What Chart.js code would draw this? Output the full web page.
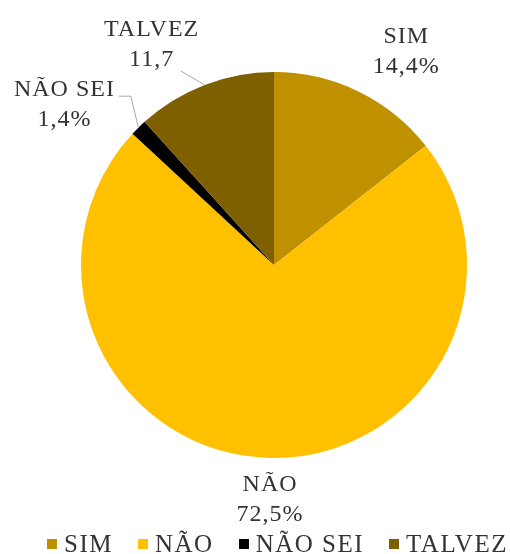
<!DOCTYPE html>
<html>
<head>
<meta charset="utf-8">
<script src="https://cdn.jsdelivr.net/npm/chart.js@4"></script>
<style>
    html, body { margin: 0; padding: 0; background: #fff; }
    #wrap { position: relative; width: 510px; height: 554px; overflow: hidden; }
    #grafico { position: absolute; left: 0; top: 0; }
    #legenda {
        position: absolute; left: 47px; top: 531px;
        display: flex; white-space: nowrap;
        font-family: "Liberation Serif", "Times New Roman", serif; font-size: 25px; line-height: 26px;
        letter-spacing: 1.5px; color: #333333;
    }
    .item { display: flex; align-items: center; margin-right: 25px; }
    .caixa { width: 10px; height: 10px; margin-right: 7px; }
</style>
</head>
<body>
<div id="wrap">
    <canvas id="grafico" width="510" height="554"></canvas>
    <div id="legenda"></div>
</div>
<script>
    // Dados do gráfico
    const categorias = ['SIM', 'NÃO', 'NÃO SEI', 'TALVEZ'];
    const valores = [14.4, 72.5, 1.4, 11.7];
    const sufixos = ['%', '%', '%', ''];
    const cores = ['#BF9000', '#FFC000', '#000000', '#7F6000'];

    const corTexto = '#333333';

    // Rótulos de dados ao redor da pizza
    const rotulos = {
        id: 'rotulos',
        afterDatasetsDraw(chart, args, opts) {
            const ctx = chart.ctx;
            const meta = chart.getDatasetMeta(0);
            ctx.save();
            ctx.font = '24px "Liberation Serif", "Times New Roman", serif';
            ctx.letterSpacing = '1px';
            ctx.fillStyle = corTexto;
            ctx.textAlign = 'center';
            ctx.textBaseline = 'middle';
            ctx.strokeStyle = '#A6A6A6';
            ctx.lineWidth = 1;
            meta.data.forEach((arc, i) => {
                const p = arc.getProps(['x', 'y', 'startAngle', 'endAngle', 'outerRadius'], true);
                const meio = (p.startAngle + p.endAngle) / 2;
                const bx = p.x + Math.cos(meio) * p.outerRadius;
                const by = p.y + Math.sin(meio) * p.outerRadius;
                const d = opts.desloc[i];
                const cx = bx + d[0], cy = by + d[1];
                const texto = valores[i].toFixed(1).replace('.', ',') + sufixos[i];
                ctx.fillText(categorias[i], cx, cy - 15);
                ctx.fillText(texto, cx, cy + 15);

                const guia = opts.guias[i];
                if (guia) {
                    ctx.beginPath();
                    ctx.moveTo(bx + guia[0][0], by + guia[0][1]);
                    for (let k = 1; k < guia.length; k++) ctx.lineTo(bx + guia[k][0], by + guia[k][1]);
                    ctx.lineTo(bx, by);
                    ctx.stroke();
                }
            });
            ctx.restore();
        }
    };

    const grafico = new Chart(document.getElementById('grafico').getContext('2d'), {
        type: 'pie',
        data: {
            labels: categorias,
            datasets: [{ data: valores, backgroundColor: cores, borderWidth: 0 }]
        },
        options: {
            responsive: false,
            animation: false,
            layout: { padding: { left: 81, right: 43, top: 2, bottom: 26 } },
            plugins: {
                legend: { display: false },
                tooltip: { enabled: false },
                rotulos: {
                    desloc: [[48, -40], [4, 42], [-74, -23], [-53, -40]],
                    guias: [null, null, [[-19.5, -31.5], [-7.5, -31.5]], [[-24, -14]]]
                }
            }
        },
        plugins: [rotulos]
    });

    // Legenda em HTML
    const legenda = document.getElementById('legenda');
    categorias.forEach((nome, i) => {
        const item = document.createElement('div');
        item.className = 'item';
        const caixa = document.createElement('span');
        caixa.className = 'caixa';
        caixa.style.background = cores[i];
        const txt = document.createElement('span');
        txt.textContent = nome;
        item.appendChild(caixa);
        item.appendChild(txt);
        legenda.appendChild(item);
    });
</script>
</body>
</html>
